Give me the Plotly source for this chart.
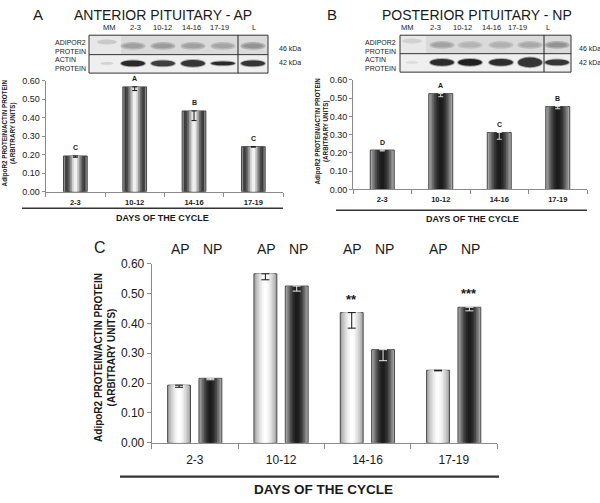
import plotly.graph_objects as go

# ---------------- data ----------------
days = ["2-3", "10-12", "14-16", "17-19"]
ap_mean = [0.193, 0.566, 0.436, 0.243]
ap_err = [0.007, 0.02, 0.052, 0.002]
np_mean = [0.216, 0.525, 0.312, 0.454]
np_err = [0.005, 0.017, 0.037, 0.012]
ap_letters = ["C", "A", "B", "C"]
np_letters = ["D", "A", "C", "B"]
ap_stars = ["", "", "**", ""]
np_stars = ["", "", "", "***"]
y_ticks = [0.0, 0.1, 0.2, 0.3, 0.4, 0.5, 0.6]
blot_lanes = ["MM", "2-3", "10-12", "14-16", "17-19", "L"]

W, H = 600, 503
FONT = "Liberation Sans, Arial, sans-serif"


def px(x):
    return x / W


def py(y):
    return 1 - y / H


fig = go.Figure()

AP_A = ["#8a8a8a", "#3c3c3c", "#484848", "#6c6c6c", "#9c9c9c", "#cdcdcd", "#f0f0f0"]
DARK = ["#a4a4a4", "#858585", "#666666", "#4a4a4a", "#343434", "#262626", "#1c1c1c"]
LIGHT = ["#a6a6a6", "#bcbcbc", "#cecece", "#dedede", "#ececec", "#f7f7f7", "#ffffff"]


def add_cyl(xa, ya, vals, errs, center, width, colors, ecolor, cap):
    n = len(colors)
    for k, c in enumerate(colors):
        w = width * (n - k) / n
        last = k == n - 1
        fig.add_trace(go.Bar(
            x=days, y=vals, xaxis=xa, yaxis=ya,
            width=w, offset=center - w / 2,
            marker=dict(color=c, line=dict(color="#4a4a4a" if k == 0 else c,
                                           width=1 if k == 0 else 0)),
            error_y=dict(type="data", symmetric=False, array=[0] * len(vals),
                         arrayminus=errs, color=ecolor, thickness=1, width=cap,
                         visible=last),
            showlegend=False, hoverinfo="skip"))


# Panel A
add_cyl("x", "y", ap_mean, ap_err, 0, 0.40, AP_A, "#111111", 2.5)
# Panel B
add_cyl("x2", "y2", np_mean, np_err, 0, 0.41, DARK, "#e0e0e0", 2.5)
# Panel C
add_cyl("x3", "y3", ap_mean, ap_err, -0.183, 0.265, LIGHT, "#111111", 4)
add_cyl("x3", "y3", np_mean, np_err, 0.180, 0.265, DARK, "#eeeeee", 4)

AX = dict(type="category", tickson="boundaries", ticks="outside", ticklen=4,
          showline=True, linecolor="#8c8c8c", tickcolor="#8c8c8c",
          showgrid=False, zeroline=False, fixedrange=True)
AY = dict(range=[0, 0.6], tickvals=y_ticks, tickformat=".2f", ticks="outside",
          ticklen=3, showline=True, linecolor="#8c8c8c", tickcolor="#8c8c8c",
          showgrid=False, zeroline=False, fixedrange=True)

fig.update_layout(
    width=W, height=H, margin=dict(l=0, r=0, t=0, b=0),
    paper_bgcolor="white", plot_bgcolor="white", barmode="overlay",
    font=dict(family=FONT, color="#1a1a1a"),
    xaxis=dict(AX, domain=[px(45.7), px(283)], anchor="y",
               tickfont=dict(size=7.5, weight="bold"), ticklabelstandoff=3),
    yaxis=dict(AY, domain=[py(190), py(75.7)], anchor="x",
               tickfont=dict(size=9)),
    xaxis2=dict(AX, domain=[px(353), px(587)], anchor="y2",
                tickfont=dict(size=7.5, weight="bold"), ticklabelstandoff=3),
    yaxis2=dict(AY, domain=[py(187.7), py(75)], anchor="x2",
                tickfont=dict(size=9)),
    xaxis3=dict(AX, domain=[px(151.7), px(497)], anchor="y3", ticklen=5,
                tickfont=dict(size=12), ticklabelstandoff=6),
    yaxis3=dict(AY, domain=[py(448.3), py(264)], anchor="x3", ticklen=4,
                tickfont=dict(size=12)),
)

ann = []


def txt(x, y, t, size, bold=False, xanchor="center", angle=0, color="#1a1a1a", align="center"):
    ann.append(dict(x=px(x), y=py(y), xref="paper", yref="paper", text=t,
                    showarrow=False, xanchor=xanchor, yanchor="middle",
                    textangle=angle, align=align,
                    font=dict(size=size, family=FONT, color=color,
                              weight="bold" if bold else "normal")))


# letters above bars
for d, v, l in zip(days, ap_mean, ap_letters):
    ann.append(dict(x=d, y=v, xref="x", yref="y", text=l, showarrow=False,
                    yanchor="middle", yshift=8, font=dict(size=7, weight="bold")))
for d, v, l in zip(days, np_mean, np_letters):
    ann.append(dict(x=d, y=v, xref="x2", yref="y2", text=l, showarrow=False,
                    yanchor="middle", yshift=8, font=dict(size=7, weight="bold")))
for d, v, s in zip(days, ap_mean, ap_stars):
    if s:
        ann.append(dict(x=d, y=v, xref="x3", yref="y3", text=s, showarrow=False,
                        xshift=-15.7, yanchor="middle", yshift=13,
                        font=dict(size=13, weight="bold")))
for d, v, s in zip(days, np_mean, np_stars):
    if s:
        ann.append(dict(x=d, y=v, xref="x3", yref="y3", text=s, showarrow=False,
                        xshift=15.5, yanchor="middle", yshift=14,
                        font=dict(size=13, weight="bold")))

# titles
txt(38, 8, "A", 15)
txt(163, 8, "ANTERIOR PITUITARY - AP", 14)
txt(332, 8, "B", 15)
txt(477, 8, "POSTERIOR PITUITARY - NP", 14)
txt(100, 247, "C", 16)
for cx in [195, 281, 367, 453]:
    txt(cx - 15, 249, "AP", 14)
    txt(cx + 17, 249, "NP", 14)

# axis titles
yt = "AdipoR2 PROTEIN/ACTIN PROTEIN<br>(ARBITRARY UNITS)"
txt(9, 130, yt, 6.3, bold=True, angle=-90)
txt(322, 128, yt, 6.3, bold=True, angle=-90)
txt(105, 361, yt, 10, bold=True, angle=-90)
txt(162, 217, "DAYS OF THE CYCLE", 9, bold=True)
txt(472, 218, "DAYS OF THE CYCLE", 9, bold=True)
txt(323, 496, "DAYS OF THE CYCLE", 13.5, bold=True)

shapes = []


def line(x0, y0, x1, y1, color="#333333", w=1.5):
    shapes.append(dict(type="line", xref="paper", yref="paper", x0=px(x0), y0=py(y0),
                       x1=px(x1), y1=py(y1), line=dict(color=color, width=w)))


def rect(x0, y0, x1, y1, fill, lc=None, lw=0):
    shapes.append(dict(type="rect", xref="paper", yref="paper", x0=px(x0), y0=py(y0),
                       x1=px(x1), y1=py(y1), fillcolor=fill,
                       line=dict(color=lc or fill, width=lw), layer="above"))


def band(cx, cy, w, h, fill, op=0.9):
    shapes.append(dict(type="circle", xref="paper", yref="paper", x0=px(cx - w / 2),
                       y0=py(cy - h / 2), x1=px(cx + w / 2), y1=py(cy + h / 2),
                       fillcolor=fill, opacity=op, line=dict(width=0), layer="above"))


line(22, 207, 283, 207)
line(336, 209, 587, 209)
line(120, 483, 499, 483, w=2.2)


def blot(x0, x1, ytop, ymid, ybot, xv, lanes_x, lane_labels_x, top_cols, act_cols, act_h,
         row_x, kda_x, top_y, act_y):
    rect(x0, ytop, x1, ymid, "#dadada")
    rect(x0, ymid, x1, ybot, "#efefef")
    rect(x0, ytop, lanes_x[0] + 14, ymid, "#e8e8e8")
    for i, cx in enumerate(lanes_x):
        if i == 0:
            band(cx, top_y - 4, 20, 5, top_cols[i], 0.7)
            band(cx, act_y, 13, 3, act_cols[i], 0.6)
        else:
            band(cx, top_y, 25, 8, top_cols[i], 0.55)
            band(cx, top_y, 20, 5, top_cols[i], 0.8)
            band(cx, act_y, 26, act_h[i] + 2, act_cols[i], 0.35)
            band(cx, act_y, 24, act_h[i], act_cols[i], 0.95)
    shapes.append(dict(type="rect", xref="paper", yref="paper", x0=px(x0), y0=py(ytop),
                       x1=px(x1), y1=py(ybot), line=dict(color="#333", width=1),
                       layer="above"))
    line(x0, ymid, x1, ymid, "#333", 1)
    line(xv, ytop, xv, ybot, "#222", 1)
    for lx, lab in zip(lane_labels_x, blot_lanes):
        txt(lx, 21, lab, 7.5)
    txt(row_x, 41, "ADIPOR2<br>PROTEIN", 7, xanchor="left", align="left")
    txt(row_x, 59, "ACTIN<br>PROTEIN", 7, xanchor="left", align="left")
    txt(kda_x, 43, "46 kDa", 7, xanchor="left")
    txt(kda_x, 57, "42 kDa", 7, xanchor="left")


blot(89, 268, 29, 49, 68, 238, [107, 133, 163, 193, 223, 253], [110, 135, 162, 191, 220, 254],
     ["#bdbdbd", "#9a9a9a", "#959595", "#9a9a9a", "#a0a0a0", "#8c8c8c"],
     ["#c0c0c0", "#222222", "#383838", "#2e2e2e", "#222222", "#2e2e2e"],
     [0, 6, 6, 7, 4, 6], 53, 277, 40, 58)
blot(400, 571, 29, 48, 67, 544, [412, 442, 470, 501, 530, 557], [407, 435, 462, 491, 517, 548],
     ["#c8c8c8", "#9c9c9c", "#b0b0b0", "#acacac", "#a4a4a4", "#8c8c8c"],
     ["#cfcfcf", "#262626", "#1a1a1a", "#262626", "#2e2e2e", "#2e2e2e"],
     [0, 7, 7, 7, 10, 6], 363, 577, 39, 57)

fig.update_layout(annotations=ann, shapes=shapes)
fig.write_html("out.html", config={"displayModeBar": False},
               post_script="document.body.style.margin='0';")
